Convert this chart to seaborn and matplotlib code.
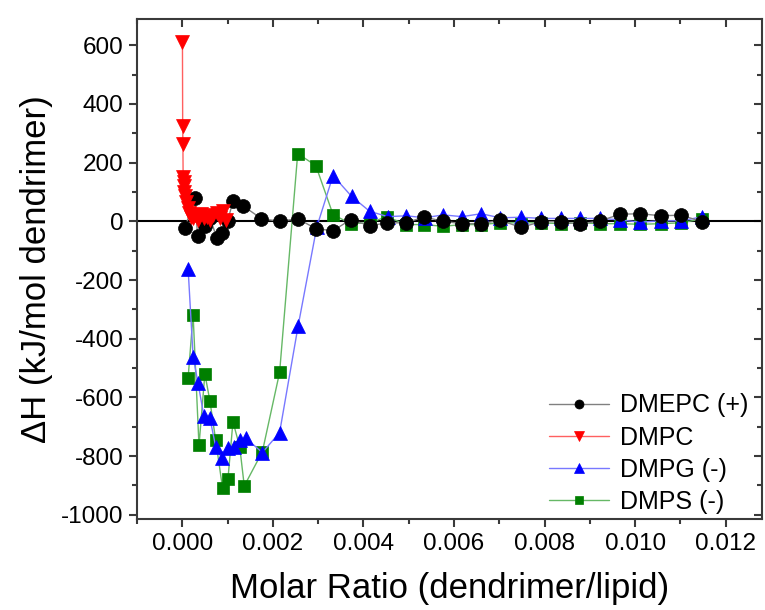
import matplotlib
matplotlib.use("Agg")
import matplotlib.pyplot as plt
from matplotlib.ticker import MultipleLocator
import pandas as pd
import seaborn as sns

# DMEPC (+)
dmepc_x = [0.00006, 0.00028, 0.00034, 0.00050, 0.00062, 0.00076, 0.00087, 0.00100,
           0.00112, 0.00134, 0.00175, 0.00215, 0.00255, 0.00295, 0.00333, 0.00372,
           0.00414, 0.00452, 0.00494, 0.00534, 0.00576, 0.00618, 0.00660, 0.00702,
           0.00748, 0.00792, 0.00837, 0.00878, 0.00923, 0.00967, 0.01011, 0.01057,
           0.01102, 0.01147]
dmepc_y = [-22, 81, -51, -15, 10, -56, -39, 0, 68, 53, 9, 0, 9, -25, -32, 6,
           -15, -5, -5, 15, 0, -8, -8, 4, -21, -1, -1, -10, 2, 24, 26, 19, 21, -1]

# DMPC
dmpc_x = [0.000005, 0.00001, 0.000015, 0.00002, 0.00003, 0.00004, 0.00005, 0.00007,
          0.00009, 0.00012, 0.00015, 0.00019, 0.00024, 0.00029, 0.00035, 0.00041,
          0.00048, 0.00055, 0.00062, 0.00069, 0.00076, 0.00083, 0.00090, 0.00097]
dmpc_y = [610, 325, 265, 150, 135, 120, 100, 85, 65, 45, 30, 15, 10, 20, 5, 25,
          10, 15, 5, 20, 30, 10, 35, 5]

# DMPG (-)
dmpg_x = [0.00013, 0.00024, 0.00035, 0.00048, 0.00061, 0.00074, 0.00087, 0.00101,
          0.00114, 0.00127, 0.00140, 0.00177, 0.00215, 0.00256, 0.00297, 0.00333,
          0.00374, 0.00414, 0.00454, 0.00495, 0.00535, 0.00576, 0.00618, 0.00660,
          0.00702, 0.00748, 0.00792, 0.00837, 0.00878, 0.00923, 0.00967, 0.01011,
          0.01057, 0.01102, 0.01147]
dmpg_y = [-162, -461, -552, -665, -670, -769, -807, -773, -768, -745, -739, -788,
          -720, -356, -20, 156, 85, 34, 16, 19, 12, 22, 16, 26, 12, 14, 10, 10, 10,
          10, 5, -3, 2, 2, 15]

# DMPS (-)
dmps_x = [0.00013, 0.00024, 0.00037, 0.00050, 0.00061, 0.00074, 0.00089, 0.00101,
          0.00112, 0.00127, 0.00137, 0.00177, 0.00215, 0.00255, 0.00295, 0.00333,
          0.00372, 0.00414, 0.00452, 0.00494, 0.00534, 0.00576, 0.00618, 0.00660,
          0.00702, 0.00748, 0.00792, 0.00837, 0.00878, 0.00923, 0.00967, 0.01011,
          0.01057, 0.01102, 0.01147]
dmps_y = [-534, -318, -764, -520, -611, -747, -909, -878, -683, -769, -902, -785,
          -515, 231, 190, 23, -8, -5, 16, -11, -11, -17, -11, -11, -5, -5, -5, -8,
          -5, -8, -8, -10, -8, -5, 8]

sns.set_style("ticks")
plt.rcParams["font.family"] = ["Liberation Sans", "DejaVu Sans"]
plt.rcParams["axes.unicode_minus"] = False
plt.rcParams["text.color"] = "black"
plt.rcParams["axes.labelcolor"] = "black"
plt.rcParams["xtick.labelcolor"] = "black"
plt.rcParams["ytick.labelcolor"] = "black"

fig = plt.figure(figsize=(7.65, 6.1), dpi=100)
ax = fig.add_axes([0.179, 0.149, 0.817, 0.82])

# (label, x, y, line colour, marker, marker colour, marker size, zorder)
series = [
    ("DMPS (-)", dmps_x, dmps_y, "#66b866", "s", "#007f00", 9, 3),
    ("DMPG (-)", dmpg_x, dmpg_y, "#7878ff", "^", "#0000ff", 10.5, 4),
    ("DMEPC (+)", dmepc_x, dmepc_y, "#808080", "o", "#000000", 10, 5),
    ("DMPC", dmpc_x, dmpc_y, "#ff6060", "v", "#ff0000", 10.5, 6),
]

handles = {}
for label, xs, ys, lc, mk, mc, ms, z in series:
    df = pd.DataFrame({"x": xs, "y": ys})
    sns.lineplot(data=df, x="x", y="y", ax=ax, sort=False, estimator=None,
                 color=lc, lw=1.0, marker=mk, markersize=ms,
                 markerfacecolor=mc, markeredgecolor=mc, markeredgewidth=0.5,
                 label=label, zorder=z)
    handles[label] = ax.lines[-1]

ax.axhline(0, color="black", lw=1.5, zorder=2)

ax.set_xlim(-0.001, 0.0128)
ax.set_ylim(-1015, 690)
ax.xaxis.set_major_locator(MultipleLocator(0.002))
ax.xaxis.set_minor_locator(MultipleLocator(0.001))
ax.yaxis.set_major_locator(MultipleLocator(200))
ax.yaxis.set_minor_locator(MultipleLocator(100))
ax.xaxis.set_major_formatter(matplotlib.ticker.FormatStrFormatter("%.3f"))

for s in ax.spines.values():
    s.set_color("#3a3a3a")
    s.set_linewidth(1.5)

ax.tick_params(which="both", direction="out", width=1.5, color="#3a3a3a",
               labelsize=17.5, labelcolor="black")
ax.tick_params(which="major", length=6)
ax.tick_params(which="minor", length=3.5)
ax.tick_params(which="both", axis="x", top=True, pad=4)
ax.tick_params(which="both", axis="y", right=True)
for t in ax.xaxis.get_major_ticks() + ax.xaxis.get_minor_ticks():
    t.tick2line.set_marker(matplotlib.lines.TICKDOWN)
for t in ax.yaxis.get_major_ticks() + ax.yaxis.get_minor_ticks():
    t.tick2line.set_marker(matplotlib.lines.TICKLEFT)

ax.set_xlabel("Molar Ratio (dendrimer/lipid)", fontsize=25, labelpad=12, color="black")
ax.set_ylabel("ΔH (kJ/mol dendrimer)", fontsize=25, labelpad=6, color="black")

order = ["DMEPC (+)", "DMPC", "DMPG (-)", "DMPS (-)"]
ax.legend([handles[k] for k in order], order, loc="lower right", frameon=False,
          fontsize=18, markerscale=0.65, handlelength=2.4, handletextpad=0.45,
          labelspacing=0.33, bbox_to_anchor=(1.015, -0.035), labelcolor="black")

fig.savefig("out.png", dpi=100, facecolor="white")
